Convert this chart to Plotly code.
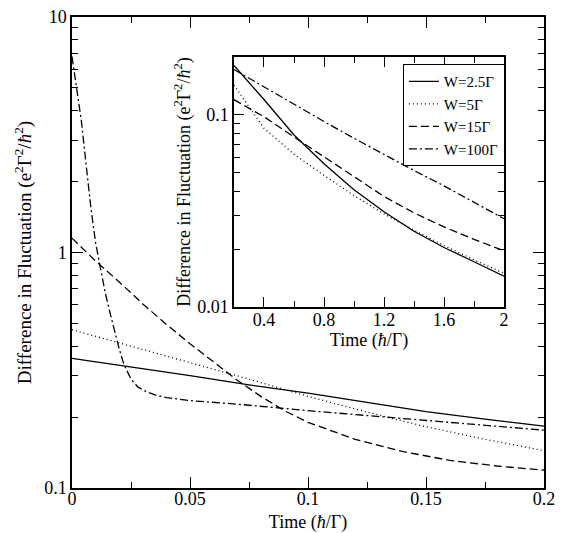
import plotly.graph_objects as go

# main panel, time in hbar/Gamma
t_main = [0, 0.025, 0.05, 0.075, 0.1, 0.125, 0.15, 0.175, 0.2]
w25_main = [0.355, 0.327, 0.300, 0.274, 0.253, 0.231, 0.211, 0.196, 0.183]
w5_main = [0.47, 0.40, 0.342, 0.29, 0.245, 0.21, 0.182, 0.161, 0.144]

t_w15 = [0, 0.01, 0.02, 0.03, 0.04, 0.05, 0.06, 0.07, 0.08, 0.09, 0.1,
         0.12, 0.14, 0.16, 0.18, 0.2]
w15_main = [1.15, 0.92, 0.75, 0.605, 0.495, 0.41, 0.343, 0.287, 0.245, 0.213,
            0.19, 0.161, 0.143, 0.131, 0.124, 0.119]

t_w100 = [0, 0.002, 0.004, 0.006, 0.008, 0.010, 0.012, 0.014, 0.016, 0.018,
          0.020, 0.022, 0.025, 0.028, 0.032, 0.036, 0.04, 0.05, 0.07, 0.1,
          0.125, 0.15, 0.175, 0.2]
w100_main = [6.8, 5.0, 3.6, 2.35, 1.55, 1.1, 0.85, 0.68, 0.56, 0.46, 0.39,
             0.335, 0.29, 0.268, 0.255, 0.247, 0.242, 0.235, 0.227, 0.213,
             0.203, 0.193, 0.184, 0.176]

# inset panel
t_inset = [0.2, 0.4, 0.6, 0.8, 1.0, 1.2, 1.4, 1.6, 1.8, 2.0]
w25_inset = [0.1807, 0.1202, 0.0785, 0.0556, 0.0407, 0.0313, 0.0248, 0.0204, 0.0172, 0.01445]
w5_inset = [0.1429, 0.0851, 0.0624, 0.0484, 0.0380, 0.0305, 0.0251, 0.0209, 0.0176, 0.0150]
w15_inset = [0.1199, 0.0977, 0.0767, 0.0603, 0.0479, 0.0376, 0.0309, 0.0261, 0.0225, 0.0196]
w100_inset = [0.1722, 0.1396, 0.1135, 0.0923, 0.0755, 0.0621, 0.0513, 0.0427, 0.0351, 0.0288]

names = ["W=2.5Γ", "W=5Γ", "W=15Γ", "W=100Γ"]
dashes = ["solid", "1px,3px", "8px,4px", "8px,3px,2px,3px"]

FONT = "Liberation Serif"
ytitle = "Difference in Fluctuation (e<sup>2</sup>Γ<sup>2</sup>/<i>ħ</i><sup>2</sup>)"
xtitle = "Time (<i>ħ</i>/Γ)"

fig = go.Figure()

main_sets = [(t_main, w25_main), (t_main, w5_main), (t_w15, w15_main), (t_w100, w100_main)]
for (x, y), name, dash in zip(main_sets, names, dashes):
    fig.add_trace(go.Scatter(x=x, y=y, mode="lines", name=name, showlegend=False,
                             line=dict(color="black", width=1.3, dash=dash),
                             xaxis="x", yaxis="y"))

inset_sets = [w25_inset, w5_inset, w15_inset, w100_inset]
for y, name, dash in zip(inset_sets, names, dashes):
    fig.add_trace(go.Scatter(x=t_inset, y=y, mode="lines", name=name,
                             line=dict(color="black", width=1.3, dash=dash),
                             xaxis="x2", yaxis="y2"))

axis_common = dict(showline=True, linecolor="black", linewidth=1.5, mirror="allticks",
                   ticks="inside", tickcolor="black", tickwidth=1.3, showgrid=False,
                   zeroline=False, automargin=False,
                   tickfont=dict(family=FONT, size=18, color="black"))
minor_style = dict(ticks="inside", ticklen=6, tickcolor="black", tickwidth=1.3)

fig.update_layout(
    width=561, height=533,
    margin=dict(l=72, r=17, t=17, b=45),
    paper_bgcolor="white", plot_bgcolor="white",
    font=dict(family=FONT, color="black"),
    xaxis=dict(**axis_common, range=[0, 0.2], domain=[0, 1],
               tickvals=[0, 0.05, 0.1, 0.15, 0.2], ticktext=["0", "0.05", "0.1", "0.15", "0.2"],
               ticklen=11, ticklabelstandoff=-6,
               minor=dict(tickvals=[0.025, 0.075, 0.125, 0.175], **minor_style),
               title=dict(text=xtitle, font=dict(family=FONT, size=18), standoff=8)),
    yaxis=dict(**axis_common, type="log", range=[-1, 1], domain=[0, 1],
               tickvals=[0.1, 1, 10], ticktext=["0.1", "1", "10"], ticklen=11,
               minor=dict(tickvals=[0.2, 0.3, 0.4, 0.5, 0.6, 0.7, 0.8, 0.9,
                                    2, 3, 4, 5, 6, 7, 8, 9], **minor_style),
               title=dict(text=ytitle, font=dict(family=FONT, size=19), standoff=8)),
    xaxis2=dict(**axis_common, anchor="y2", range=[0.2, 2], domain=[0.3432, 0.9153],
                tickvals=[0.4, 0.8, 1.2, 1.6, 2], ticktext=["0.4", "0.8", "1.2", "1.6", "2"],
                ticklen=10, ticklabelstandoff=-4,
                minor=dict(tickvals=[0.6, 1.0, 1.4, 1.8], **minor_style),
                title=dict(text=xtitle, font=dict(family=FONT, size=18), standoff=0)),
    yaxis2=dict(**axis_common, anchor="x2", type="log", range=[-2, -0.69897],
                domain=[0.3843, 0.9151],
                tickvals=[0.01, 0.1], ticktext=["0.01", "0.1"], ticklen=10,
                minor=dict(tickvals=[0.02, 0.03, 0.04, 0.05, 0.06, 0.07, 0.08, 0.09, 0.2],
                           **minor_style),
                title=dict(text=ytitle, font=dict(family=FONT, size=18), standoff=2)),
    legend=dict(x=0.701, y=0.900, xanchor="left", yanchor="top",
                bgcolor="white", bordercolor="black", borderwidth=1,
                font=dict(family=FONT, size=15, color="black"),
                tracegroupgap=0, itemwidth=30, entrywidth=85, entrywidthmode="pixels"),
)

fig.write_html("out.html", config={"displayModeBar": False},
               post_script="document.body.style.margin='0';")
